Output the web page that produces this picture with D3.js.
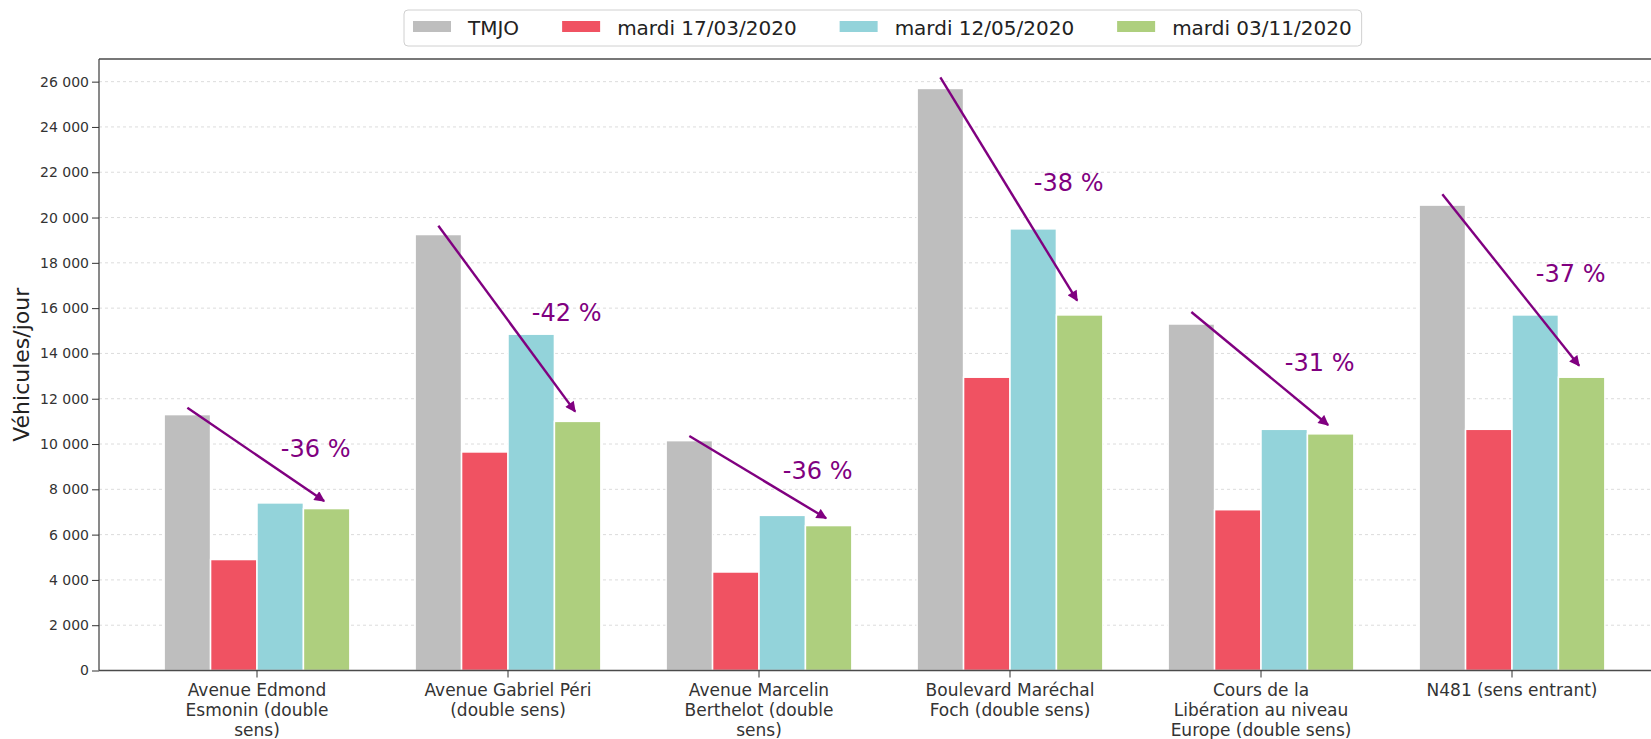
<!DOCTYPE html>
<html>
<head>
<meta charset="utf-8">
<script src="https://cdn.jsdelivr.net/npm/d3@7"></script>
<style>
body { margin:0; background:#fff; }
text { font-family: "DejaVu Sans", sans-serif; }
</style>
</head>
<body>
<div id="chart"></div>
<script>
// data
var categories = [
  ["Avenue Edmond", "Esmonin (double", "sens)"],
  ["Avenue Gabriel Péri", "(double sens)"],
  ["Avenue Marcelin", "Berthelot (double", "sens)"],
  ["Boulevard Maréchal", "Foch (double sens)"],
  ["Cours de la", "Libération au niveau", "Europe (double sens)"],
  ["N481 (sens entrant)"]
];
var seriesNames = ["TMJO", "mardi 17/03/2020", "mardi 12/05/2020", "mardi 03/11/2020"];
var seriesColors = ["#bebebe", "#f05262", "#93d3da", "#aecf7e"];
var tmjo    = [11300, 19250, 10150, 25700, 15300, 20550];
var mars17  = [4900, 9650, 4350, 12950, 7100, 10650];
var mai12   = [7400, 14850, 6850, 19500, 10650, 15700];
var nov03   = [7150, 11000, 6400, 15700, 10450, 12950];
// arrows (value at start above TMJO, value at tip above 03/11) and labels
var arrowFrom = [11600, 19640, 10350, 26190, 15830, 21025];
var arrowTo   = [7480, 11430, 6720, 16330, 10840, 13460];
var pctLabels = ["-36 %", "-42 %", "-36 %", "-38 %", "-31 %", "-37 %"];
var yTicks = d3.range(0, 26001, 2000);

var series = [tmjo, mars17, mai12, nov03];

var W = 1651, H = 739;
// note: "top" is taken by window.top, hence the prefix
var plotLeft = 99, plotTop = 59, plotBottom = 670.5, plotRight = 1651;

var svg = d3.select("#chart").append("svg")
  .attr("width", W).attr("height", H);

var x = d3.scaleLinear().domain([0, 5]).range([257, 1512]);
var y = d3.scaleLinear().domain([0, 27000]).range([plotBottom, plotTop]);
var barW = 0.185; // in category units

var fr = d3.formatLocale({decimal: ",", thousands: " ", grouping: [3], currency: ["", " €"]});
var fmt = fr.format(",d");

// grid
svg.append("g").selectAll("line").data(yTicks.filter(function(d){ return d > 0; }))
  .enter().append("line")
  .attr("x1", plotLeft).attr("x2", plotRight)
  .attr("y1", function(d){ return y(d); }).attr("y2", function(d){ return y(d); })
  .attr("stroke", "#dcdcdc").attr("stroke-width", 1).attr("stroke-dasharray", "3,3");

// bars
series.forEach(function(vals, j) {
  svg.append("g").selectAll("rect").data(vals).enter().append("rect")
    .attr("x", function(d, i){ return x(i + (j - 2) * barW); })
    .attr("width", x(barW) - x(0))
    .attr("y", function(d){ return y(d); })
    .attr("height", function(d){ return y(0) - y(d); })
    .attr("fill", seriesColors[j])
    .attr("stroke", "#fff").attr("stroke-width", 1.5);
});

// spines
var axisCol = "#4a4a4a";
svg.append("line").attr("x1", plotLeft).attr("x2", plotLeft).attr("y1", plotTop).attr("y2", plotBottom)
  .attr("stroke", axisCol).attr("stroke-width", 1.3);
svg.append("line").attr("x1", plotLeft).attr("x2", plotRight).attr("y1", plotTop).attr("y2", plotTop)
  .attr("stroke", axisCol).attr("stroke-width", 1.3);
svg.append("line").attr("x1", plotLeft).attr("x2", plotRight).attr("y1", plotBottom).attr("y2", plotBottom)
  .attr("stroke", axisCol).attr("stroke-width", 1.3);

// y axis
var yAxis = svg.append("g").attr("transform", "translate(" + plotLeft + ",0)")
  .call(d3.axisLeft(y).tickValues(yTicks).tickFormat(fmt).tickSize(7).tickPadding(3));
yAxis.select(".domain").remove();
yAxis.selectAll(".tick line").attr("stroke", "#333");
yAxis.selectAll("text").attr("font-size", 14).attr("fill", "#333")
  .attr("font-family", "DejaVu Sans");

svg.append("text")
  .attr("transform", "translate(29," + ((plotTop + plotBottom) / 2) + ") rotate(-90)")
  .attr("text-anchor", "middle").attr("font-size", 22).attr("fill", "#222")
  .text("Véhicules/jour");

// x axis ticks + labels
var xg = svg.append("g").selectAll("g").data(categories).enter().append("g");
xg.append("line")
  .attr("x1", function(d, i){ return x(i); }).attr("x2", function(d, i){ return x(i); })
  .attr("y1", plotBottom).attr("y2", plotBottom + 7)
  .attr("stroke", "#333");
xg.append("text")
  .attr("text-anchor", "middle").attr("font-size", 17).attr("fill", "#333")
  .each(function(d, i) {
    var t = d3.select(this);
    d.forEach(function(line, k) {
      t.append("tspan").attr("x", x(i)).attr("y", 695.5 + k * 20.4).text(line);
    });
  });

// arrows
var purple = "#800080";
svg.append("defs").append("marker")
  .attr("id", "head").attr("viewBox", "0 0 10 10")
  .attr("refX", 9).attr("refY", 5)
  .attr("markerWidth", 5).attr("markerHeight", 4.4)
  .attr("markerUnits", "strokeWidth").attr("orient", "auto")
  .append("path").attr("d", "M0,0L10,5L0,10z").attr("fill", purple);

var ag = svg.append("g");
arrowFrom.forEach(function(v, i) {
  var x1 = x(i - 1.5 * barW), x2 = x(i + 1.5 * barW) - 2.5;
  ag.append("line")
    .attr("x1", x1).attr("y1", y(v))
    .attr("x2", x2).attr("y2", y(arrowTo[i]))
    .attr("stroke", purple).attr("stroke-width", 2.4)
    .attr("marker-end", "url(#head)");
  ag.append("text")
    .attr("x", x(i + 0.095))
    .attr("y", y((v + arrowTo[i]) / 2 - 100))
    .attr("font-size", 24).attr("fill", purple)
    .text(pctLabels[i]);
});

// legend
var lg = svg.append("g");
var box = lg.append("rect").attr("x", 404).attr("y", 10).attr("height", 36)
  .attr("rx", 4).attr("fill", "#fff").attr("stroke", "#d0d0d0").attr("stroke-width", 1);
var lx = 413;
seriesNames.forEach(function(name, j) {
  lg.append("rect").attr("x", lx).attr("y", 21).attr("width", 38).attr("height", 11)
    .attr("fill", seriesColors[j]);
  var t = lg.append("text").attr("x", lx + 55).attr("y", 35)
    .attr("font-size", 20).attr("fill", "#222").text(name);
  var w = t.node().getComputedTextLength();
  lx = lx + 55 + w + (j < seriesNames.length - 1 ? 43 : 10);
});
box.attr("width", lx - 404);
</script>
</body>
</html>
